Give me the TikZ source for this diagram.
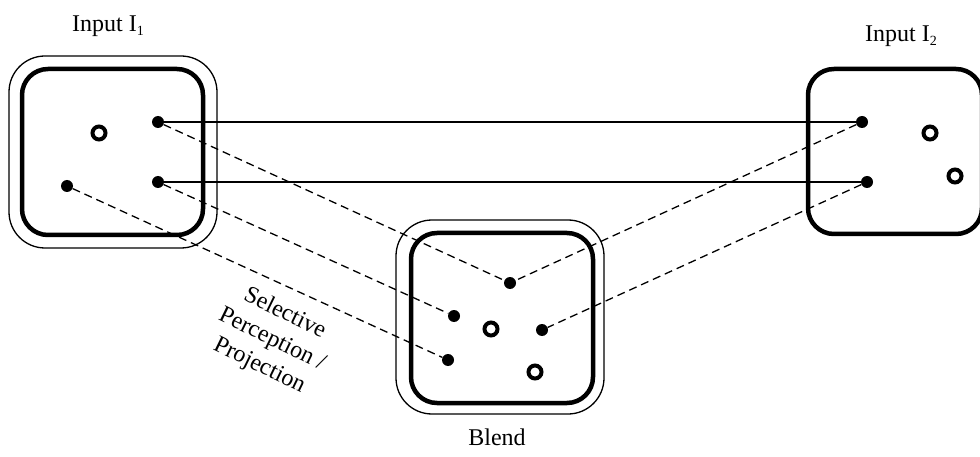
\documentclass[tikz,border=0pt]{standalone}
\usepackage{fontspec}
\setmainfont{Liberation Serif}
\begin{document}
\begin{tikzpicture}[x=1pt,y=-1pt,
  space/.style={draw, line width=4.5pt, rounded corners=26pt, inner sep=0pt},
  halo/.style={draw, line width=1.3pt, rounded corners=36pt, inner sep=0pt},
  elem/.style={circle, fill=black, inner sep=0pt, minimum size=12pt},
  ring/.style={circle, draw, fill=white, line width=4pt, inner sep=0pt, minimum size=13pt},
  link/.style={line width=1.3pt},
  proj/.style={line width=1.3pt, dash pattern=on 8pt off 5pt},
  lbl/.style={font=\fontsize{24}{29}\selectfont, inner sep=0pt}
]
\useasboundingbox (0,0) rectangle (980,457);
\begin{scope}
\clip (0,0) rectangle (980,457);

% Input space I1
\node[halo, minimum width=208pt, minimum height=192pt] (h1) at (113,152) {};
\node[space, minimum width=181pt, minimum height=166pt] (s1) at (112.5,152) {};

% Input space I2 (runs off the right edge)
\node[space, minimum width=174pt, minimum height=165pt] (s2) at (895,151.5) {};

% Blend space
\node[halo, minimum width=208pt, minimum height=194pt] (hb) at (500,317) {};
\node[space, minimum width=182pt, minimum height=170pt] (sb) at (502,318) {};

% elements of I1
\node[ring] (a0) at (99,133) {};
\node[elem] (a1) at (158,122) {};
\node[elem] (a2) at (158,182) {};
\node[elem] (a3) at (67,186) {};

% elements of I2
\node[elem] (b1) at (862,122) {};
\node[elem] (b2) at (867,182) {};
\node[ring] (b3) at (930,133) {};
\node[ring] (b4) at (955,176) {};

% elements of the blend
\node[elem] (c1) at (510,283) {};
\node[elem] (c2) at (454,316) {};
\node[elem] (c3) at (542,330) {};
\node[elem] (c4) at (448,360) {};
\node[ring] (c5) at (491,329) {};
\node[ring] (c6) at (535,372) {};

% cross-space mappings
\draw[link] (a1) -- (b1);
\draw[link] (a2) -- (b2);

% projections into the blend
\draw[proj] (a1) -- (c1);
\draw[proj] (a2) -- (c2);
\draw[proj] (a3) -- (c4);
\draw[proj] (b1) -- (c1);
\draw[proj] (b2) -- (c3);
\end{scope}

% labels
\node[lbl, anchor=base] (l1) at (108,32) {Input I\raisebox{-0.35ex}{\fontsize{14}{14}\selectfont 1}};
\node[lbl, anchor=base] (l2) at (901,42) {Input I\raisebox{-0.35ex}{\fontsize{14}{14}\selectfont 2}};
\node[lbl, anchor=base] (lb) at (497,445) {Blend};
\node[lbl, align=center, rotate=-26] (lp) at (272,340)
  {Selective\\Perception /\\Projection};
\end{tikzpicture}
\end{document}
